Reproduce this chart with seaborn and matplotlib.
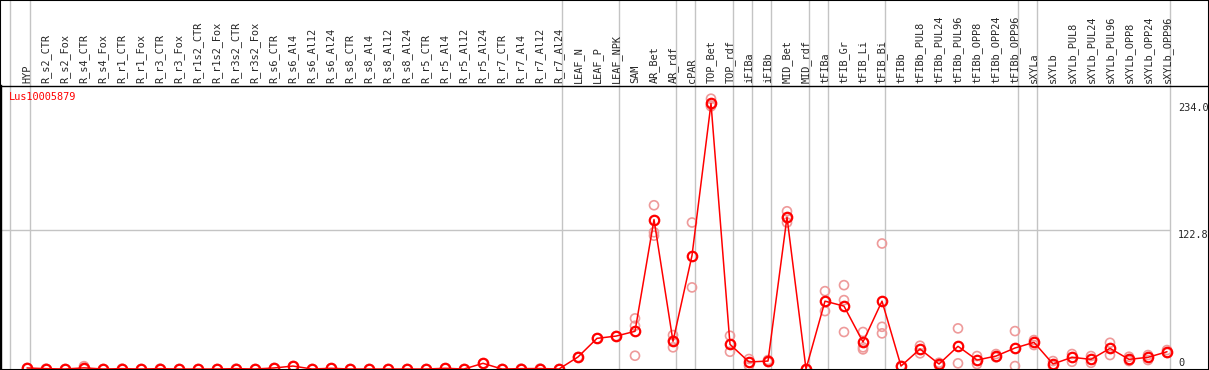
import numpy as np
import pandas as pd
import matplotlib
matplotlib.use("Agg")
import matplotlib.pyplot as plt
import matplotlib.transforms as mtransforms
from matplotlib.patches import Rectangle
import seaborn as sns

sns.set_style("white")
plt.rcParams["font.family"] = ["DejaVu Sans Mono"]

GENE = "Lus10005879"

samples = [
    "HYP",
    "R_s2_CTR", "R_s2_Fox", "R_s4_CTR", "R_s4_Fox", "R_r1_CTR", "R_r1_Fox",
    "R_r3_CTR", "R_r3_Fox", "R_r1s2_CTR", "R_r1s2_Fox", "R_r3s2_CTR", "R_r3s2_Fox",
    "R_s6_CTR", "R_s6_Al4", "R_s6_Al12", "R_s6_Al24",
    "R_s8_CTR", "R_s8_Al4", "R_s8_Al12", "R_s8_Al24",
    "R_r5_CTR", "R_r5_Al4", "R_r5_Al12", "R_r5_Al24",
    "R_r7_CTR", "R_r7_Al4", "R_r7_Al12", "R_r7_Al24",
    "LEAF_N", "LEAF_P", "LEAF_NPK",
    "SAM", "AR_Bet", "AR_rdf", "cPAR", "TOP_Bet", "TOP_rdf",
    "iFIBa", "iFIBb", "MID_Bet", "MID_rdf",
    "tFIBa", "tFIB_Gr", "tFIB_Li", "tFIB_Bi", "tFIBb",
    "tFIBb_PUL8", "tFIBb_PUL24", "tFIBb_PUL96",
    "tFIBb_OPP8", "tFIBb_OPP24", "tFIBb_OPP96",
    "sXYLa", "sXYLb",
    "sXYLb_PUL8", "sXYLb_PUL24", "sXYLb_PUL96",
    "sXYLb_OPP8", "sXYLb_OPP24", "sXYLb_OPP96",
]

mean_expr = [
    0.9,
    0.3, 0.0, 1.0, 0.0, 0.3, 0.0, 0.3, 0.0, 0.0, 0.0, 0.3, 0.0,
    0.9, 2.6, 0.0, 0.6,
    0.0, 0.0, 0.0, 0.0,
    0.0, 0.6, 0.0, 5.0,
    0.0, 0.3, 0.4, 0.0,
    10.6, 27.0, 29.0,
    33.2, 131.7, 24.4, 100.0, 234.0, 21.7,
    6.2, 7.0, 133.8, 0.0,
    59.8, 55.4, 23.8, 59.8, 2.6,
    17.6, 4.4, 20.0,
    7.9, 11.4, 18.5,
    23.5, 4.4,
    10.3, 8.5, 18.2,
    8.5, 10.3, 15.2,
]

# replicate values, one list per sample
replicates = [[m] for m in mean_expr[:29]]
replicates[3] = [0.2, 2.5]
replicates += [
    [10.6], [27.0], [29.0],
    [44.6, 38.1, 11.7], [144.3, 120.5, 117.5], [29.9, 25.0, 19.1],
    [129.1, 71.9], [238.2, 232.3, 231.5], [29.3, 15.2],
    [8.8, 2.9], [7.9, 6.2], [139.0, 129.1, 133.0], [0.0],
    [68.6, 51.0], [73.9, 60.7, 32.6], [32.6, 19.1, 17.3], [110.6, 37.2, 31.4], [2.6],
    [20.5, 13.8], [5.5, 2.9], [35.8, 5.0],
    [11.4, 4.4], [13.2, 10.3], [33.4, 2.6],
    [25.5, 21.1], [7.0, 2.6],
    [13.2, 6.4], [11.4, 5.5], [23.1, 12.3],
    [10.8, 7.0], [12.3, 7.9], [16.7, 14.1],
]

# last sample of each group (separator drawn just after it)
group_ends = [0, 28, 31, 34, 35, 37, 38, 39, 41, 42, 45, 52, 53, 60]
y_ticks = [234.0, 122.8, 0]

x = np.arange(len(samples))
rep_df = pd.DataFrame(
    [(i, v) for i, vals in enumerate(replicates) for v in vals],
    columns=["pos", "value"],
)

W, H = 1209, 370
fig = plt.figure(figsize=(W / 100, H / 100), dpi=100)
ax = fig.add_axes([0.5 / W, 0.5 / H, 1208 / W, (369 - 85) / H])

grid_c = "#c4c4c4"
ext = 369.5 / 284.0
ax.axvline(-0.895, 0, ext, color=grid_c, lw=1, clip_on=False, zorder=0)
for g in group_ends:
    ax.axvline(g + 0.158, 0, ext, color=grid_c, lw=1, clip_on=False, zorder=0)
ax.plot([-1.5, 60.158], [122.8, 122.8], color=grid_c, lw=1, zorder=0)

sns.scatterplot(data=rep_df, x="pos", y="value", ax=ax, marker="o", s=42,
                facecolor="none", edgecolor="#ee9a9a", linewidth=1.2, zorder=2)
sns.lineplot(x=x, y=mean_expr, ax=ax, color="red", lw=1.1, marker="o",
             markersize=6.8, markerfacecolor="none", markeredgecolor="red",
             markeredgewidth=1.6, zorder=3)

ax.set_xlim((0.5 - 27) / 19, (1208.5 - 27) / 19)
scale = 234.0 / 266.0
ax.set_ylim(-0.5 * scale, 234.0 + 18 * scale)

ax.xaxis.tick_top()
ax.set_xticks(x)
ax.set_xticklabels(samples, rotation=90, fontsize=7.4)
ax.tick_params(axis="x", length=0, pad=1.5)
ax.set_yticks([])
ax.set_xlabel("")
ax.set_ylabel("")
for s in ax.spines.values():
    s.set_color("black")
    s.set_linewidth(1.0)

xr = (1178 - 27) / 19
ax.text(xr, y_ticks[0], f"{y_ticks[0]:.1f}", va="top", ha="left", fontsize=7.4)
ax.text(xr, y_ticks[1], f"{y_ticks[1]:.1f}", va="top", ha="left", fontsize=7.4)
ax.text(xr, 0.5, f"{y_ticks[2]}", va="bottom", ha="left", fontsize=7.4)

fig.text(9 / W, 1 - 97 / H, GENE, color="red", fontsize=7.4, va="center", ha="left")
fig.patches.append(Rectangle((0, 0), 1, 1, transform=fig.transFigure,
                             fill=False, edgecolor="black", lw=1.5))

fig.savefig("out.png", dpi=100)
